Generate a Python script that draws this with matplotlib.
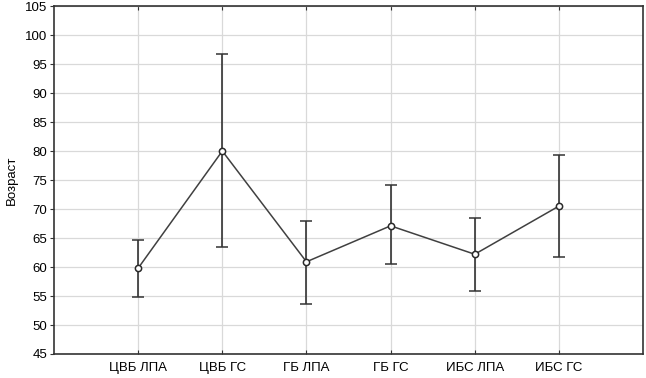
import matplotlib
matplotlib.use("Agg")
import matplotlib.pyplot as plt

# данные
groups = ["ЦВБ ЛПА", "ЦВБ ГС", "ГБ ЛПА", "ГБ ГС", "ИБС ЛПА", "ИБС ГС"]
mean_age = [59.8, 80.0, 60.9, 67.1, 62.2, 70.5]
upper = [64.7, 96.7, 68.0, 74.1, 68.5, 79.4]
lower = [54.9, 63.5, 53.7, 60.6, 55.9, 61.7]

plt.rcParams["font.family"] = ["Liberation Sans", "DejaVu Sans"]

fig = plt.figure(figsize=(6.46, 3.78), dpi=100)
ax = fig.add_axes([0.0836, 0.0635, 0.9118, 0.9205])

x = list(range(1, len(groups) + 1))
err = [[m - lo for m, lo in zip(mean_age, lower)],
       [up - m for m, up in zip(mean_age, upper)]]

ax.errorbar(x, mean_age, yerr=err, color="#404040", lw=1.1,
            elinewidth=1.2, ecolor="#333333", capsize=4, capthick=1.2,
            marker="o", ms=4.5, mfc="white", mec="#2a2a2a", mew=1.1, zorder=3)

ax.set_xlim(0, 7)
ax.set_ylim(45, 105)
ax.set_yticks(range(45, 106, 5))
ax.set_xticks(x)
ax.set_xticklabels(groups)
ax.set_ylabel("Возраст", fontsize=9.5, labelpad=5)

ax.grid(True, color="#d9d9d9", lw=0.9)
ax.set_axisbelow(True)
for s in ax.spines.values():
    s.set_color("#333333")
    s.set_linewidth(1.2)

ax.tick_params(axis="x", direction="in", length=3, top=True, labelsize=9.5,
               color="#333333", pad=6)
ax.tick_params(axis="y", direction="out", length=3, labelsize=9.5,
               color="#333333", pad=2)

fig.savefig("out.png", dpi=100)
